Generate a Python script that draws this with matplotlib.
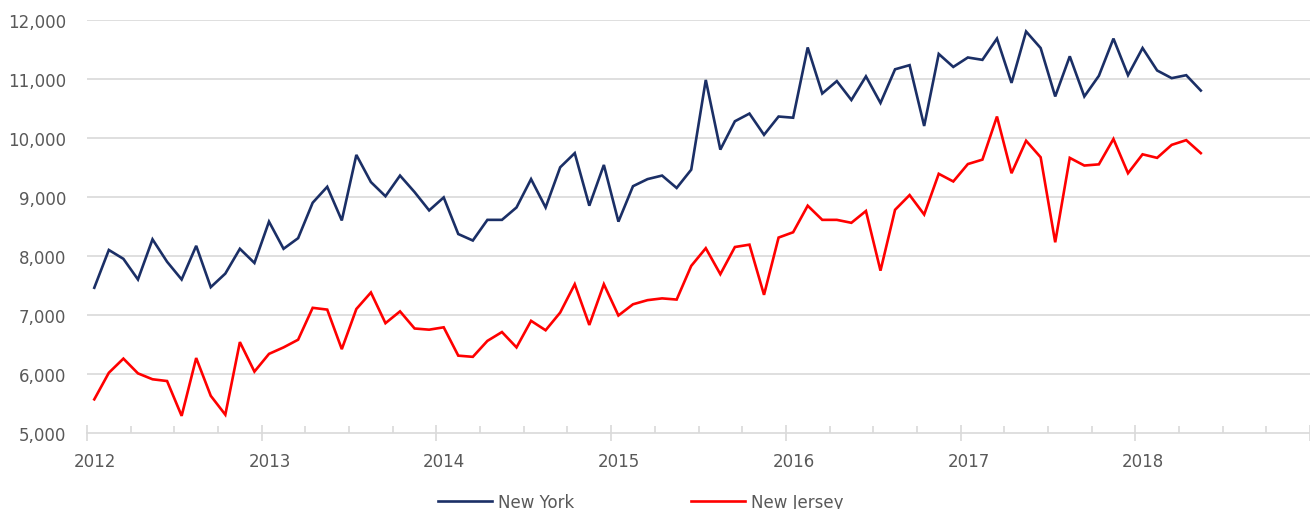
import matplotlib
matplotlib.use("Agg")
import matplotlib.pyplot as plt
import numpy as np

plt.rcParams['font.family'] = ['DejaVu Sans']

start_year = 2012
new_york = [7460, 8100, 7950, 7600, 8280, 7900, 7600, 8170, 7470, 7700, 8120, 7880,
            8580, 8120, 8300, 8900, 9170, 8600, 9710, 9250, 9010, 9360, 9080, 8770,
            8990, 8370, 8260, 8610, 8610, 8820, 9300, 8820, 9500, 9740, 8850, 9540,
            8580, 9180, 9300, 9360, 9150, 9460, 10980, 9800, 10280, 10410, 10050, 10360,
            10340, 11530, 10750, 10960, 10640, 11040, 10590, 11160, 11230, 10200, 11420, 11200,
            11360, 11320, 11680, 10930, 11800, 11520, 10700, 11380, 10700, 11050, 11680, 11060,
            11520, 11140, 11010, 11060, 10800]
new_jersey = [5570, 6020, 6260, 6010, 5910, 5880, 5290, 6270, 5630, 5310, 6540, 6040,
              6340, 6450, 6580, 7120, 7090, 6420, 7100, 7380, 6860, 7060, 6770, 6750,
              6790, 6310, 6290, 6560, 6710, 6450, 6900, 6740, 7040, 7520, 6830, 7520,
              6990, 7180, 7250, 7280, 7260, 7830, 8130, 7690, 8150, 8190, 7340, 8310,
              8400, 8850, 8610, 8610, 8560, 8760, 7750, 8780, 9030, 8700, 9390, 9260,
              9555, 9630, 10360, 9400, 9950, 9670, 8230, 9660, 9530, 9550, 9980, 9400,
              9720, 9660, 9880, 9960, 9740]
year_labels = ['2012', '2013', '2014', '2015', '2016', '2017', '2018']
y_ticks = [5000, 6000, 7000, 8000, 9000, 10000, 11000, 12000]

n = len(new_york)
x = start_year + (np.arange(n) + 0.5) / 12.0

fig = plt.figure(figsize=(13.1, 5.1), dpi=100)
ax = fig.add_axes([87/1310, 1 - 434/510, 1 - 87/1310, (434 - 20.7)/510])

grid_c = '#D9D9D9'
text_c = '#595959'
fs = 12
for v in y_ticks[1:]:
    ax.axhline(v, color=grid_c, lw=1.2, zorder=0)

ax.plot(x, new_york, color='#1B2F66', lw=1.9, label='New York', solid_joinstyle='miter', zorder=3)
ax.plot(x, new_jersey, color='#FF0000', lw=1.9, label='New Jersey', solid_joinstyle='miter', zorder=3)

ax.set_xlim(2012, 2019)
ax.set_ylim(5000, 12000)

for s in ['top', 'right', 'left']:
    ax.spines[s].set_visible(False)
ax.spines['bottom'].set_color(grid_c)
ax.spines['bottom'].set_linewidth(1.2)

years = np.arange(2012, 2020)
ax.set_xticks(years)
ax.set_xticklabels([])
ax.tick_params(axis='x', which='major', direction='inout', length=11, width=1.2, color=grid_c)
ax.set_xticks([yr + q / 4 for yr in range(2012, 2019) for q in (1, 2, 3)], minor=True)
ax.tick_params(axis='x', which='minor', direction='in', length=5, width=1.2, color=grid_c)

for i, lab in enumerate(year_labels):
    ax.text(2012 + i + 0.045, 4525, lab, ha='center', va='center', fontsize=fs,
            color=text_c, clip_on=False)

ax.set_yticks(y_ticks)
ax.set_yticklabels([f'{v:,}' for v in y_ticks], fontsize=fs, color=text_c)
ax.tick_params(axis='y', length=0, pad=15)

fig.legend(loc='center', bbox_to_anchor=(641/1310, 1 - 503/510), ncol=2, frameon=False,
           fontsize=fs, labelcolor=text_c, handlelength=3.2, handletextpad=0.4,
           columnspacing=7.0)

fig.savefig('out.png', dpi=100, facecolor='white')
